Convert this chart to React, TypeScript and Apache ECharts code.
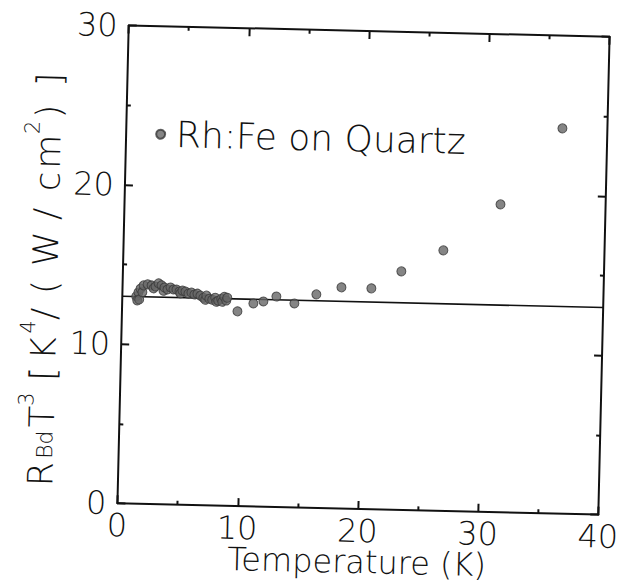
import React, { useEffect, useRef } from "react";
import * as echarts from "echarts";

// Rh:Fe on Quartz — measured R_Bd * T^3 versus temperature
const temperatureK = [
  1.16, 1.25, 1.33, 1.41, 1.5, 1.66, 1.75, 2.08, 2.41, 2.58, 2.74, 2.99, 3.24, 3.41, 3.49,
  3.74, 3.99, 4.24, 4.49, 4.74, 4.82, 4.99, 5.24, 5.49, 5.74, 5.99, 6.24, 6.49, 6.74, 6.9,
  6.99, 7.24, 7.48, 7.73, 7.82, 7.98, 8.23, 8.32, 8.48, 8.65, 8.73,
  9.6, 10.91, 11.74, 12.81, 14.32, 16.13, 18.2, 20.69, 23.15, 26.6, 31.26, 36.26,
];
const rbdT3 = [
  13.01, 12.76, 13.26, 12.82, 13.5, 13.28, 13.71, 13.78, 13.72, 13.54, 13.66, 13.86, 13.74, 13.4, 13.61,
  13.49, 13.62, 13.5, 13.5, 13.38, 13.26, 13.44, 13.38, 13.26, 13.33, 13.21, 13.27, 13.15, 13.02, 12.9,
  13.16, 12.97, 12.91, 13.04, 12.79, 12.86, 12.98, 12.8, 13.11, 12.88, 13.06,
  12.22, 12.74, 12.88, 13.21, 12.8, 13.4, 13.88, 13.86, 14.97, 16.35, 19.32, 24.18,
];
// horizontal reference line
const fitT = [0, 40];
const fitValue = [13.0, 13.0];

const xMin = 0, xMax = 40, xStep = 10;
const yMin = 0, yMax = 30, yStep = 10;

const seriesName = "Rh:Fe on Quartz";
const xTitle = "Temperature (K)";
// y title pieces: [text, kind]
const yTitleParts: [string, string][] = [
  ["R", "r"], ["Bd", "sub"], ["T", "r"], ["3", "sup"], [" [", "r"], ["K", "r"], ["4", "sup"],
  ["/", "r"], ["(", "r"], ["W", "r"], ["/", "r"], ["c", "r"], ["m", "r"], ["2", "sup"], [")", "r"], ["]", "r"],
];
// extra spacing before each piece (layout only)
const yTitleGaps = [0, 3, 3, 0, 1, 7, 3, 1, 14, 14, 12, 17, 3, 0, 3, 18];

const FONT = "'DejaVu Sans', 'Liberation Sans', sans-serif";
const INK = "#111111";
const W300 = 300 as any;

export default function App() {
  const ref = useRef<HTMLDivElement>(null);
  useEffect(() => {
    if (!ref.current) return;
    const chart = echarts.init(ref.current, undefined, { renderer: "svg" });
    const points = temperatureK.map((t, i) => [t, rbdT3[i]]);
    const fit = fitT.map((t, i) => [t, fitValue[i]]);

    const rich: Record<string, any> = {};
    const nameStr = yTitleParts
      .map(([txt, kind], i) => {
        const key = "t" + i;
        const pl = yTitleGaps[i];
        if (kind === "r") {
          rich[key] = { fontSize: 35, lineHeight: 35, verticalAlign: "bottom", color: INK, fontFamily: FONT, fontWeight: W300, padding: [0, 0, 0, pl] };
        } else if (kind === "sub") {
          rich[key] = { fontSize: 22, lineHeight: 22, verticalAlign: "bottom", color: INK, fontFamily: FONT, fontWeight: W300, padding: [0, 0, 3, pl] };
        } else {
          rich[key] = { fontSize: 21, lineHeight: 21, verticalAlign: "bottom", color: INK, fontFamily: FONT, fontWeight: W300, padding: [0, 0, 23, pl] };
        }
        return "{" + key + "|" + txt + "}";
      })
      .join("");

    const axisLine = { show: true, onZero: false, lineStyle: { color: INK, width: 2 } };
    const tick = { show: true, inside: true, length: 8, lineStyle: { color: INK, width: 2 } };
    const minor = { show: true, splitNumber: 2, length: 4, lineStyle: { color: INK, width: 2 } };
    const label = { color: INK, fontFamily: FONT, fontSize: 32, fontWeight: W300 };
    chart.setOption({
      animation: false,
      backgroundColor: "#ffffff",
      grid: { left: 123, top: 31, width: 481, height: 478, containLabel: false, outerBoundsMode: "none" } as any,
      legend: {
        data: [seriesName],
        left: 152,
        top: 121,
        padding: 0,
        icon: "circle",
        itemWidth: 9,
        itemHeight: 9,
        textStyle: { color: INK, fontFamily: FONT, fontSize: 36, fontWeight: W300, padding: [0, 0, 0, 6] },
      },
      xAxis: [
        {
          type: "value", min: xMin, max: xMax, interval: xStep, position: "bottom",
          axisLine, axisTick: tick, minorTick: minor, splitLine: { show: false },
          axisLabel: { ...label, margin: 6 },
          name: xTitle, nameLocation: "middle", nameGap: 37, nameMoveOverlap: false,
          nameTextStyle: { color: INK, fontFamily: FONT, fontSize: 32, lineHeight: 32, fontWeight: W300 },
        } as any,
        {
          type: "value", min: xMin, max: xMax, interval: xStep, position: "top",
          axisLine, axisTick: tick, minorTick: minor, splitLine: { show: false },
          axisLabel: { show: false },
        },
      ],
      yAxis: [
        {
          type: "value", min: yMin, max: yMax, interval: yStep, position: "left",
          axisLine, axisTick: tick, minorTick: minor, splitLine: { show: false },
          axisLabel: { ...label, margin: 11 },
          name: nameStr,
          nameLocation: "middle", nameRotate: 90, nameGap: 60, nameMoveOverlap: false,
          nameTextStyle: { color: INK, fontFamily: FONT, padding: [0, 34, 0, 0], rich },
        } as any,
        {
          type: "value", min: yMin, max: yMax, interval: yStep, position: "right",
          axisLine, axisTick: tick, minorTick: minor, splitLine: { show: false },
          axisLabel: { show: false },
        },
      ],
      series: [
        {
          name: "fit",
          type: "line",
          data: fit,
          showSymbol: false,
          symbol: "none",
          lineStyle: { color: INK, width: 1.6 },
          silent: true,
          z: 2,
        },
        {
          name: seriesName,
          type: "scatter",
          data: points,
          symbol: "circle",
          symbolSize: 9,
          itemStyle: { color: "#666666", borderColor: "#3a3a3a", borderWidth: 1 },
          z: 3,
        },
      ],
    });
    return () => chart.dispose();
  }, []);
  return (
    <div style={{ position: "fixed", left: 0, top: 0, width: 636, height: 586, overflow: "hidden", background: "#fff" }}>
      <div
        ref={ref}
        style={{
          position: "absolute", left: 0, top: 0, width: 636, height: 586,
          transform: "rotate(1.35deg)", transformOrigin: "363px 270px",
        }}
      />
    </div>
  );
}
